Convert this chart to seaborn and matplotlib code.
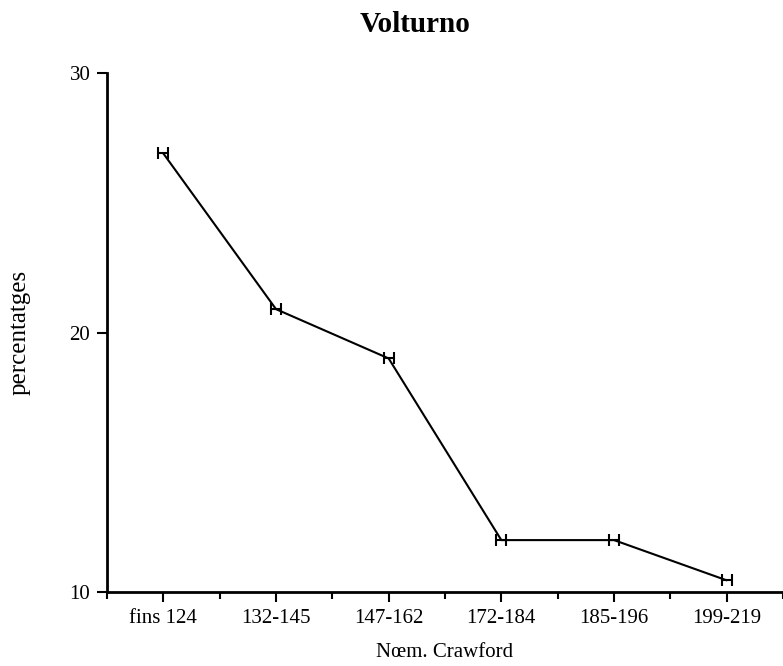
import matplotlib
matplotlib.use("Agg")
import matplotlib.pyplot as plt
import seaborn as sns
import pandas as pd
import numpy as np
from matplotlib.ticker import MultipleLocator

categories = ["fins 124", "132-145", "147-162", "172-184", "185-196", "199-219"]
values = [26.9, 20.9, 19.0, 12.0, 12.0, 10.45]
y_ticks = [10, 20, 30]

sns.set_theme(style="white")
plt.rcParams['font.family'] = ['Liberation Serif', 'DejaVu Serif']

df = pd.DataFrame({"period": categories, "pct": values})
df["x"] = np.arange(len(categories))

fig = plt.figure(figsize=(7.83, 6.66), dpi=100)
ax = fig.add_axes([107/783, 1 - 592/666, 1 - 107/783, (592-73)/666])

sns.lineplot(data=df, x="x", y="pct", ax=ax, color="black", linewidth=1.5,
             marker=None, legend=False)
ax.errorbar(df["x"], df["pct"], xerr=0.045, fmt="none", ecolor="black",
            elinewidth=1.5, capsize=4.5, capthick=1.5)

ax.set_xlim(-0.5, 5.5)
ax.set_ylim(10, 30)
ax.set_xticks(df["x"])
ax.set_xticklabels(categories, fontsize=15)
ax.xaxis.set_minor_locator(MultipleLocator(1, offset=0.5))
ax.set_yticks(y_ticks)
ax.set_yticklabels([str(t) for t in y_ticks], fontsize=15)

for s in ["top", "right"]:
    ax.spines[s].set_visible(False)
for s in ["left", "bottom"]:
    ax.spines[s].set_color("black")
    ax.spines[s].set_linewidth(2)

ax.tick_params(axis="both", which="major", direction="out", length=7, width=1.5,
               colors="black", bottom=True, left=True, pad=5)
ax.tick_params(axis="x", which="minor", direction="out", length=5, width=1.5,
               colors="black", bottom=True)

ax.set_xlabel("Nœm. Crawford", fontsize=15, labelpad=11, color="black")
ax.set_ylabel("percentatges", fontsize=18, labelpad=28, color="black")
fig.text(415/783, 1 - 24/666, "Volturno", ha="center", va="center", fontsize=21,
         fontweight="bold", color="black")
ax.grid(False)

fig.savefig("out.png", dpi=100)
